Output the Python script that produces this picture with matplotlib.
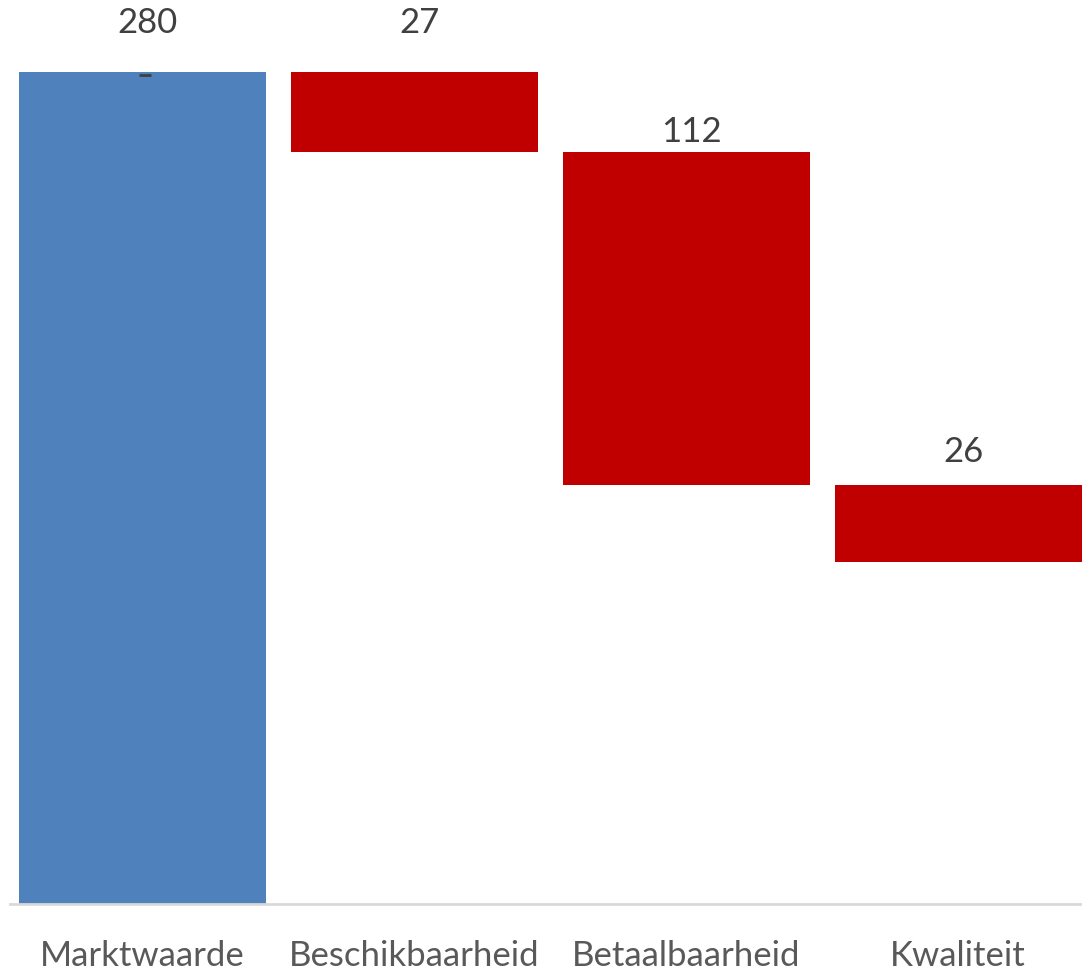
import matplotlib
matplotlib.use("Agg")
import matplotlib.pyplot as plt
from matplotlib import font_manager

categories = ["Marktwaarde", "Beschikbaarheid", "Betaalbaarheid", "Kwaliteit"]
values = [280, -27, -112, -26]
labels = ["280", "27", "112", "26"]
label_offsets_px = [49, 49, 20, 33]

fams = {f.name for f in font_manager.fontManager.ttflist}
font = "Liberation Sans Narrow" if "Liberation Sans Narrow" in fams else "Lato"
plt.rcParams['font.family'] = [font, 'DejaVu Sans']

W, H = 1082, 971
fig = plt.figure(figsize=(W / 100, H / 100), dpi=100)
ax = fig.add_axes([0, (H - 904) / H, 1, 904 / H])

spacing = 272.0
c0 = 142.0
ax.set_xlim(-c0 / spacing, (W - c0) / spacing)
ymax = 280 * 904 / 832
ax.set_ylim(0, ymax)
px_per_unit = 832 / 280

bottoms, heights, colors = [], [], []
running = 0
for i, v in enumerate(values):
    if i == 0:
        bottoms.append(0)
        heights.append(v)
        colors.append("#4F81BD")
        running = v
    else:
        bottoms.append(running + v)
        heights.append(-v)
        colors.append("#C00000")
        running += v

x = list(range(len(categories)))
ax.bar(x, heights, bottom=bottoms, width=247 / spacing, color=colors, edgecolor='none')

for i in x:
    top = bottoms[i] + heights[i]
    ax.text(i + 0.02, top + label_offsets_px[i] / px_per_unit, labels[i],
            ha='center', va='center', fontsize=25, color='#404040', clip_on=False)

# small leader dash on first bar
ax.plot([0.01], [280 - 3 / px_per_unit], marker='_', markersize=8, color='#404040', mew=2)

# category axis line
ax.plot([(10 - c0) / spacing, (W - c0) / spacing], [0, 0], color='#D9D9D9', lw=2, clip_on=False)

for i, c in enumerate(categories):
    ax.text(i, -52 / px_per_unit, c, ha='center', va='center', fontsize=25,
            color='#595959', clip_on=False)

ax.axis('off')
fig.savefig("out.png", dpi=100)
